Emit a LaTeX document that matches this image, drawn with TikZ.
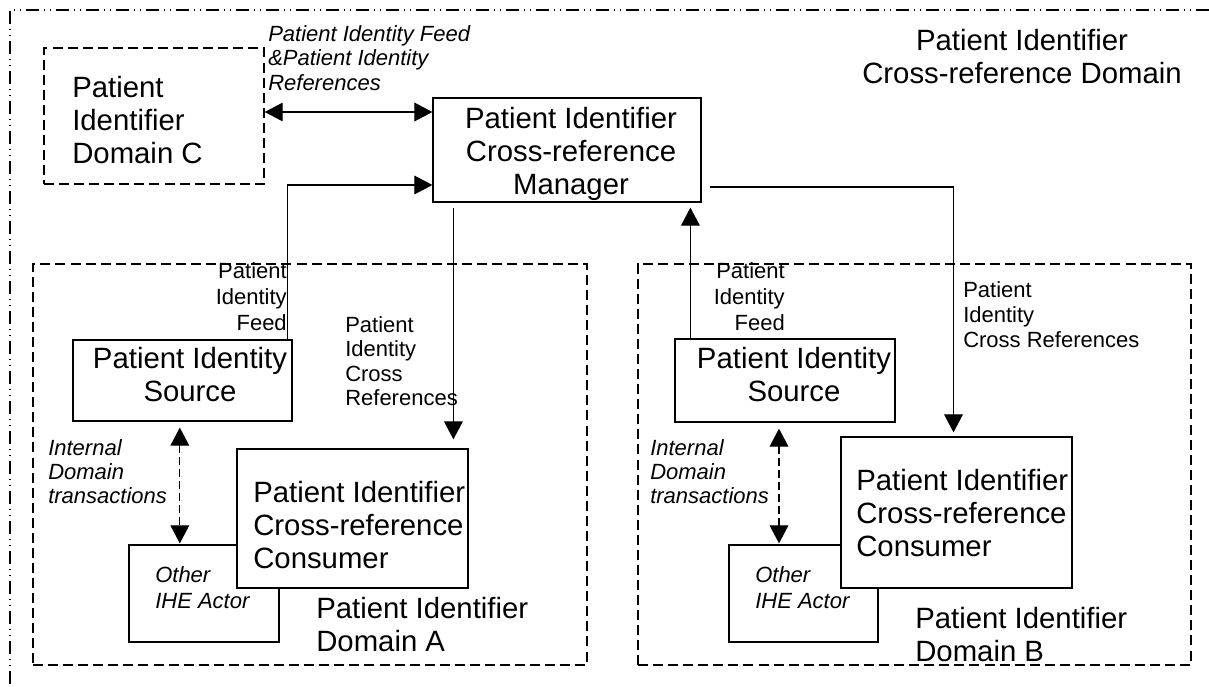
\documentclass[tikz,border=0pt]{standalone}
\usepackage{fontspec}
\setmainfont{Liberation Sans}
\usetikzlibrary{arrows.meta,fit}
\tikzset{
  box/.style={draw, line width=0.9pt, inner sep=0pt},
  wbox/.style={box, fill=white},
  dombox/.style={draw, line width=1.1pt, dash pattern=on 7.5pt off 3.8pt, inner sep=0pt},
  frame/.style={draw, line width=1.1pt, dash pattern=on 10pt off 3.5pt on 1pt off 3.5pt on 1pt off 3.5pt},
  big/.style={font=\fontsize{22pt}{24.75pt}\selectfont, inner sep=0pt},
  lab/.style={font=\fontsize{16.5pt}{19.5pt}\selectfont, inner sep=0pt},
  ilab/.style={font=\fontsize{16.5pt}{18.2pt}\selectfont\itshape, inner sep=0pt},
  tip/.style={-{Triangle[length=13.5pt,width=14pt]}},
  dtip/.style={{Triangle[length=13.5pt,width=14pt]}-{Triangle[length=13.5pt,width=14pt]}},
  conn/.style={line width=0.8pt},
  dconn/.style={conn, dash pattern=on 6pt off 3pt},
}
\begin{document}
\begin{tikzpicture}[x=0.75pt,y=-0.75pt]
\useasboundingbox (0,0) rectangle (1209,686);
% outer cross-reference domain frame
\coordinate (frTR) at (1209,10);
\coordinate (frTL) at (10,10);
\coordinate (frBL) at (10,686);
\draw[frame] (frTR) -- (frTL) -- (frBL);

% domains
\node[dombox, fit={(44,48) (264,184)}] (domC) {};
\node[dombox, fit={(33,264) (587,665)}] (domA) {};
\node[dombox, fit={(638,264) (1191,665)}] (domB) {};

% actors
\node[box, fit={(433,98) (701,202)}] (mgr) {};
\node[box, fit={(73,340) (292,421)}] (pisA) {};
\node[box, fit={(129,545) (279,642)}] (othA) {};
\node[wbox, fit={(237,449) (468,588)}] (conA) {};
\node[box, fit={(675,339) (895,422)}] (pisB) {};
\node[box, fit={(729,545) (878,642)}] (othB) {};
\node[wbox, fit={(841,437) (1072,588)}] (conB) {};

% texts
\node[big, anchor=north west, align=left] (domCt) at (72,76) {Patient\\Identifier\\Domain C};
\node[big, anchor=north, align=center] (title) at (1022,29) {Patient Identifier\\Cross-reference Domain};
\node[big, anchor=north, align=center] (mgrt) at (571,107) {Patient Identifier\\Cross-reference\\Manager};
\node[big, anchor=north, align=center] (pisAt) at (190,347) {Patient Identity\\Source};
\node[big, anchor=north, align=center] (pisBt) at (794,347) {Patient Identity\\Source};
\node[big, anchor=north west, align=left] (conAt) at (253,481) {Patient Identifier\\Cross-reference\\Consumer};
\node[big, anchor=north west, align=left] (conBt) at (856,469) {Patient Identifier\\Cross-reference\\Consumer};
\node[big, anchor=north west, align=left] (domAt) at (316,597) {Patient Identifier\\Domain A};
\node[big, anchor=north west, align=left] (domBt) at (915,607) {Patient Identifier\\Domain B};

\node[lab, anchor=north east, align=right] (feedA) at (287,262) {Patient\\Identity\\Feed};
\node[lab, anchor=north west, align=left, font=\fontsize{16.5pt}{18.4pt}\selectfont] (xrefA) at (345,316) {Patient\\Identity\\Cross\\References};
\node[lab, anchor=north east, align=right] (feedB) at (785,262) {Patient\\Identity\\Feed};
\node[lab, anchor=north west, align=left, font=\fontsize{16.5pt}{19pt}\selectfont] (xrefB) at (963,281) {Patient\\Identity\\Cross References};

\node[ilab, anchor=north west, align=left, font=\fontsize{16.5pt}{18.4pt}\selectfont\itshape] (topl) at (268,25) {Patient Identity Feed\\\&Patient Identity\\References};
\node[ilab, anchor=north west, align=left] (intA) at (48,439) {Internal\\Domain\\transactions};
\node[ilab, anchor=north west, align=left] (intB) at (650,439) {Internal\\Domain\\transactions};
\node[ilab, anchor=north west, align=left, font=\fontsize{16.5pt}{19.5pt}\selectfont\itshape] (othAt) at (155,566) {Other\\IHE Actor};
\node[ilab, anchor=north west, align=left, font=\fontsize{16.5pt}{19.5pt}\selectfont\itshape] (othBt) at (755,566) {Other\\IHE Actor};

% connectors
\draw[conn, dtip] ([yshift=3pt]domC.east) -- ([yshift=3pt]domC.east -| mgr.west);
\draw[conn, tip] ([xshift=-3.75pt]pisA.north east) |- ([yshift=-26.25pt]mgr.west);
\draw[conn, tip, shorten <=3.75pt, shorten >=6.75pt] ([xshift=15.75pt]mgr.south west) -- ([xshift=15.75pt]mgr.south west |- conA.north);
\draw[conn, tip, shorten >=3.75pt] ([xshift=12pt]pisB.north west) -- ([xshift=12pt]pisB.north west |- mgr.south);
\draw[conn, tip, shorten <=6pt, shorten >=3pt] ([yshift=-27.75pt]mgr.east) -| ([xshift=-2.25pt]conB.north);
\draw[dconn, dtip, shorten <=4.5pt, shorten >=0.75pt] ([xshift=-2pt]pisA.south) -- ([xshift=-2pt]pisA.south |- othA.north);
\draw[dconn, dtip, shorten <=4.5pt, shorten >=0.75pt] ([xshift=-4.5pt]pisB.south) -- ([xshift=-4.5pt]pisB.south |- othB.north);
\end{tikzpicture}
\end{document}
